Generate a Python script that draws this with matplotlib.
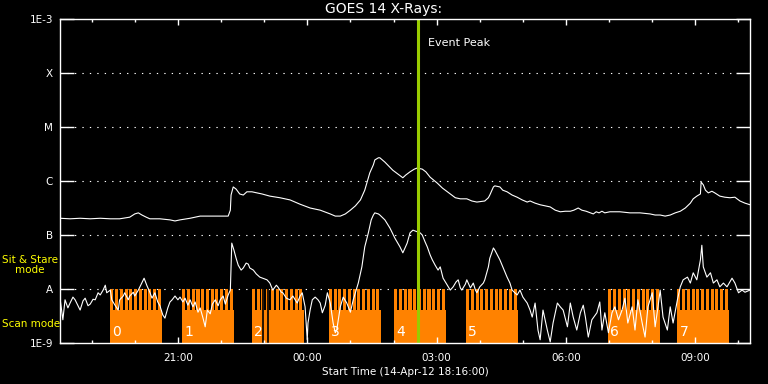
import datetime as dt
import numpy as np
import matplotlib
matplotlib.use("Agg")
import matplotlib.pyplot as plt
import matplotlib.dates as mdates

# start of the plotted interval
start = dt.datetime(2012, 4, 14, 18, 16)
span_min = 960

# GOES 14 long channel (1-8 A): minutes after start, log10 flux (W/m^2)
long_t = [0, 14, 28, 42, 56, 70, 83, 97, 104, 109, 114, 120, 125, 139, 153, 160, 167,
          181, 195, 216, 234, 237, 238, 241, 245, 250, 255, 260, 267, 274, 281, 292,
          306, 320, 334, 348, 362, 376, 383, 390, 397, 404, 411, 418, 424, 431, 436,
          438, 443, 445, 452, 463, 470, 477, 481, 487, 493, 497, 504, 509, 515, 525,
          532, 539, 550, 557, 566, 573, 580, 591, 596, 598, 603, 605, 612, 616, 622,
          629, 636, 643, 650, 654, 661, 668, 675, 682, 689, 696, 703, 710, 715, 721,
          726, 732, 738, 742, 746, 750, 754, 758, 765, 779, 793, 807, 821, 828, 835,
          842, 849, 856, 863, 870, 877, 881, 886, 891, 892, 895, 898, 902, 907, 911,
          918, 925, 932, 939, 946, 953, 960]
long_lf = [-6.69, -6.70, -6.69, -6.70, -6.69, -6.70, -6.70, -6.67, -6.61, -6.59, -6.63,
           -6.67, -6.70, -6.70, -6.72, -6.74, -6.72, -6.69, -6.65, -6.65, -6.65, -6.54,
           -6.26, -6.11, -6.15, -6.24, -6.26, -6.20, -6.20, -6.22, -6.24, -6.28, -6.31,
           -6.35, -6.43, -6.50, -6.54, -6.61, -6.65, -6.65, -6.61, -6.54, -6.46, -6.35,
           -6.17, -5.85, -5.70, -5.61, -5.57, -5.57, -5.65, -5.80, -5.87, -5.94, -5.89,
           -5.83, -5.78, -5.76, -5.78, -5.83, -5.93, -6.04, -6.13, -6.20, -6.31, -6.33,
           -6.33, -6.37, -6.39, -6.37, -6.31, -6.26, -6.11, -6.09, -6.11, -6.17, -6.20,
           -6.26, -6.30, -6.35, -6.39, -6.37, -6.41, -6.44, -6.46, -6.48, -6.54, -6.57,
           -6.56, -6.56, -6.54, -6.50, -6.54, -6.56, -6.59, -6.61, -6.57, -6.59, -6.56,
           -6.59, -6.57, -6.57, -6.59, -6.59, -6.61, -6.63, -6.63, -6.65, -6.63, -6.59,
           -6.56, -6.50, -6.41, -6.33, -6.28, -6.24, -6.02, -6.07, -6.17, -6.22, -6.19,
           -6.22, -6.28, -6.30, -6.31, -6.30, -6.37, -6.41, -6.44]

# GOES 14 short channel (0.5-4 A)
short_t = [0, 4, 7, 11, 14, 18, 21, 25, 28, 32, 35, 39, 42, 46, 49, 53, 56, 60, 63, 65,
           70, 72, 77, 81, 83, 88, 90, 95, 97, 102, 104, 109, 113, 117, 121, 125, 128,
           132, 136, 139, 143, 146, 150, 153, 156, 160, 164, 167, 171, 174, 178, 181,
           185, 188, 192, 195, 199, 202, 205, 209, 212, 216, 220, 223, 227, 230, 234,
           237, 239, 242, 245, 248, 252, 255, 259, 262, 264, 269, 273, 278, 284, 288,
           292, 296, 301, 303, 308, 310, 315, 320, 324, 330, 334, 337, 341, 344, 345,
           348, 351, 355, 359, 362, 365, 369, 372, 376, 380, 383, 385, 390, 394, 399,
           404, 408, 412, 415, 420, 424, 429, 433, 436, 438, 443, 445, 452, 459, 466,
           469, 473, 477, 480, 483, 487, 491, 497, 501, 504, 508, 511, 515, 518, 522,
           526, 529, 533, 539, 543, 547, 551, 554, 557, 559, 564, 566, 571, 575, 578,
           580, 584, 589, 591, 596, 598, 603, 605, 610, 612, 616, 622, 626, 629, 633,
           636, 640, 644, 650, 654, 657, 661, 665, 668, 672, 678, 682, 686, 692, 696,
           700, 706, 710, 714, 719, 724, 728, 731, 735, 740, 747, 751, 754, 758, 763,
           768, 772, 777, 782, 786, 790, 796, 800, 804, 810, 814, 818, 824, 828, 832,
           835, 839, 845, 849, 853, 859, 863, 867, 873, 877, 881, 886, 891, 893, 895,
           900, 905, 909, 914, 918, 923, 928, 935, 939, 944, 949, 953, 960]
short_lf = [-8.17, -8.57, -8.20, -8.35, -8.26, -8.15, -8.20, -8.31, -8.39, -8.22, -8.17,
            -8.31, -8.28, -8.19, -8.20, -8.07, -8.11, -8.02, -7.93, -8.07, -8.02, -8.20,
            -8.31, -8.39, -8.20, -8.13, -8.07, -8.20, -8.13, -8.06, -8.13, -8.02, -7.91,
            -7.80, -7.94, -8.06, -8.17, -8.07, -8.24, -8.31, -8.48, -8.54, -8.35, -8.24,
            -8.20, -8.13, -8.20, -8.15, -8.24, -8.17, -8.30, -8.20, -8.33, -8.24, -8.43,
            -8.35, -8.54, -8.70, -8.39, -8.46, -8.28, -8.20, -8.31, -8.20, -8.13, -8.28,
            -8.11, -8.02, -7.15, -7.28, -7.43, -7.56, -7.65, -7.61, -7.52, -7.54, -7.61,
            -7.65, -7.72, -7.78, -7.81, -7.83, -7.89, -8.02, -7.93, -7.96, -8.06, -8.07,
            -8.17, -8.20, -8.13, -8.26, -8.13, -8.07, -8.33, -8.94, -8.63, -8.39, -8.20,
            -8.15, -8.20, -8.26, -8.44, -8.30, -8.07, -8.26, -8.63, -8.81, -8.76, -8.33,
            -8.15, -8.26, -8.43, -8.20, -8.02, -7.89, -7.59, -7.22, -6.96, -6.72, -6.63,
            -6.59, -6.61, -6.63, -6.72, -6.87, -7.06, -7.13, -7.22, -7.33, -7.24, -7.15,
            -6.96, -6.91, -6.94, -6.96, -7.00, -7.13, -7.22, -7.37, -7.46, -7.56, -7.65,
            -7.59, -7.80, -7.93, -8.02, -7.96, -7.87, -7.83, -7.98, -8.02, -7.91, -7.83,
            -7.98, -7.89, -8.02, -8.07, -7.96, -7.89, -7.83, -7.59, -7.43, -7.24, -7.28,
            -7.41, -7.46, -7.59, -7.78, -7.89, -8.02, -8.07, -8.11, -8.02, -8.15, -8.26,
            -8.39, -8.52, -8.26, -8.76, -8.94, -8.39, -8.76, -8.98, -8.63, -8.26, -8.33,
            -8.39, -8.70, -8.26, -8.52, -8.76, -8.44, -8.30, -8.52, -8.89, -8.57, -8.44,
            -8.24, -8.76, -8.44, -8.81, -8.44, -8.33, -8.57, -8.39, -8.17, -8.63, -8.33,
            -8.76, -8.20, -8.63, -8.89, -8.33, -8.07, -8.70, -8.33, -8.02, -8.52, -8.76,
            -8.33, -8.63, -8.20, -7.96, -7.83, -7.78, -7.89, -7.70, -7.83, -7.46, -7.19,
            -7.59, -7.78, -7.70, -7.89, -7.83, -7.96, -7.89, -7.96, -7.80, -7.89, -8.07,
            -8.02, -8.06, -8.02]

# observing blocks (minutes after start) and their labels
block_start = [70, 170, 267, 374, 465, 565, 763, 859]
block_end = [142, 242, 340, 447, 537, 637, 835, 931]
block_names = ["0", "1", "2", "3", "4", "5", "6", "7"]
raster_cycle = 6.6     # minutes per sit & stare step
raster_slew = 2.3      # minutes of the step spent slewing
dropouts = [282, 289]  # missing pointing samples in block 2
scan_level = 10 ** -8.39
stare_level = 1e-8

event_peak = dt.datetime(2012, 4, 15, 2, 34)

ytick_vals = [1e-9, 1e-8, 1e-7, 1e-6, 1e-5, 1e-4, 1e-3]
ytick_labels = ["1E-9", "A", "B", "C", "M", "X", "1E-3"]

orange = "#ff8200"
green = "#99cc00"
yellow = "#ffff00"

t0 = mdates.date2num(start)
def tnum(mins):
    return t0 + np.asarray(mins, dtype=float) / 1440.0

fig = plt.figure(figsize=(7.68, 3.84), dpi=100, facecolor="black")
ax = fig.add_axes([60 / 768, 41 / 384, 690 / 768, 324 / 384], facecolor="black")
ax.set_yscale("log")
ax.set_ylim(1e-9, 1e-3)
ax.set_xlim(tnum(0), tnum(span_min))

# dotted flare class levels
for lv in ytick_vals[1:-1]:
    ax.plot([tnum(10), tnum(span_min - 10)], [lv, lv], color="white", lw=0.8,
            ls=(0, (1.2, 5.5)), zorder=0.5)

# observing mode fill
for i, (b0, b1) in enumerate(zip(block_start, block_end)):
    ax.bar(tnum(b0), scan_level - 1e-9, width=(b1 - b0) / 1440.0, bottom=1e-9,
           align="edge", color=orange, lw=0, zorder=1)
    k = 0
    while b0 + k * raster_cycle < b1 - 0.5:
        s = b0 + k * raster_cycle
        e = min(s + raster_cycle - raster_slew, b1)
        ax.bar(tnum(s), stare_level - scan_level, width=(e - s) / 1440.0,
               bottom=scan_level, align="edge", color=orange, lw=0, zorder=1)
        k += 1
    ax.annotate(block_names[i], xy=(tnum(b0), 0), xycoords=("data", "axes fraction"),
                xytext=(1.5, 3), textcoords="offset points", color="white",
                fontsize=10, ha="left", va="bottom", zorder=3)
for d in dropouts:
    ax.plot([tnum(d), tnum(d)], [1e-9, stare_level], color="black", lw=1.2, zorder=1.2)

ax.plot(tnum(long_t), 10 ** np.array(long_lf), color="white", lw=0.8, zorder=2)
ax.plot(tnum(short_t), 10 ** np.array(short_lf), color="white", lw=0.8, zorder=2)

ax.axvline(mdates.date2num(event_peak), color=green, lw=2.2, zorder=2.5)
ax.annotate("Event Peak", xy=(mdates.date2num(event_peak), 0.926),
            xycoords=("data", "axes fraction"), xytext=(7, 0), textcoords="offset points",
            color="white", fontsize=8, va="center", ha="left")

for sp in ax.spines.values():
    sp.set_color("white")
    sp.set_linewidth(1.0)

ax.set_yticks(ytick_vals)
ax.set_yticklabels(ytick_labels)
ax.yaxis.set_minor_locator(matplotlib.ticker.NullLocator())
ax.tick_params(axis="y", which="major", direction="in", length=10, width=1.0,
               colors="white", labelsize=7.5, left=True, right=True, pad=5)

ax.xaxis.set_major_locator(mdates.HourLocator(byhour=range(0, 24, 3)))
ax.xaxis.set_minor_locator(mdates.HourLocator())
ax.xaxis.set_major_formatter(mdates.DateFormatter("%H:%M"))
ax.tick_params(axis="x", which="major", direction="in", length=4.5, width=1.0,
               colors="white", labelsize=7.5, top=True, bottom=True, pad=7)
ax.tick_params(axis="x", which="minor", direction="in", length=2.2, width=1.0,
               colors="white", top=True, bottom=True)
ax.set_xlabel("Start Time (14-Apr-12 18:16:00)", color="white", fontsize=7.5, labelpad=3)

fig.text(0.5, 1 - 9 / 384, "GOES 14 X-Rays:", color="white", fontsize=10,
         ha="center", va="center")
fig.text(30 / 768, 1 - 265 / 384, "Sit & Stare\nmode", color=yellow, fontsize=7.5,
         ha="center", va="center", linespacing=1.1)
fig.text(2 / 768, 1 - 324 / 384, "Scan mode", color=yellow, fontsize=7.5,
         ha="left", va="center")

fig.savefig("out.png", dpi=100, facecolor="black")
